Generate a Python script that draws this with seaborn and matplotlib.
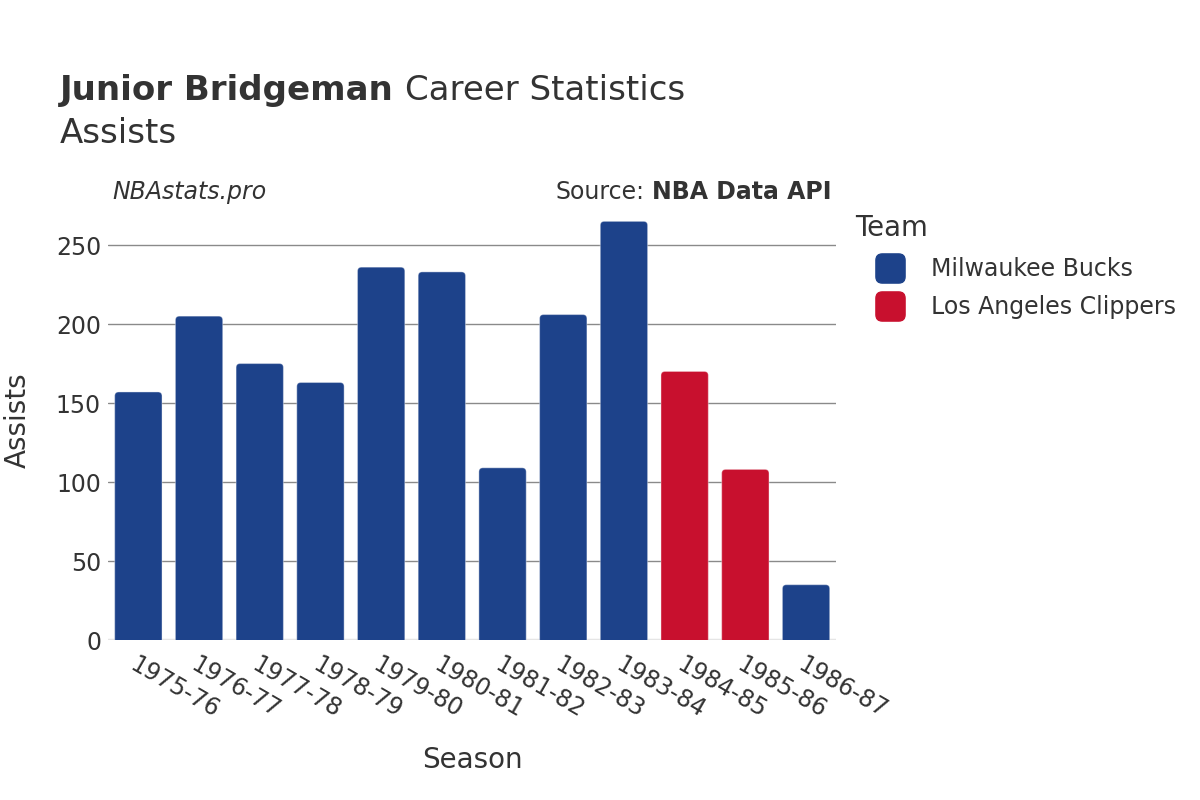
import matplotlib
matplotlib.use("Agg")
import matplotlib.pyplot as plt
from matplotlib.patches import FancyBboxPatch
from matplotlib.lines import Line2D
import seaborn as sns
import pandas as pd

seasons = ["1975-76", "1976-77", "1977-78", "1978-79", "1979-80", "1980-81",
           "1981-82", "1982-83", "1983-84", "1984-85", "1985-86", "1986-87"]
assists = [157, 205, 175, 163, 236, 233, 109, 206, 265, 170, 108, 35]
teams = ["Milwaukee Bucks"] * 9 + ["Los Angeles Clippers"] * 2 + ["Milwaukee Bucks"]
team_order = ["Milwaukee Bucks", "Los Angeles Clippers"]
team_colors = {"Milwaukee Bucks": "#1D428A", "Los Angeles Clippers": "#C8102E"}

df = pd.DataFrame({"Season": seasons, "Assists": assists, "Team": teams})

sns.set_theme(style="white")
plt.rcParams["font.family"] = ["DejaVu Sans"]
TXT = "#333333"
FS = 17

fig = plt.figure(figsize=(12, 8), dpi=100)
ax = fig.add_axes([0.09, 0.2, 0.607, 0.549])

sns.barplot(data=df, x="Season", y="Assists", hue="Team", order=seasons,
            hue_order=team_order, palette=team_colors, dodge=False,
            width=0.78, ax=ax, legend=False, saturation=1)

ax.set_ylim(0, 278)
ax.set_xlim(-0.5, len(seasons) - 0.5)

# replace bars with rounded-top versions derived from the drawn bars
xpx = 728 / 12.0
ypx = 439 / 278.0
aspect = xpx / ypx
for p in list(ax.patches):
    x, y = p.get_x(), p.get_y()
    w, h = p.get_width(), p.get_height()
    if h <= 0 or w <= 0:
        continue
    fc = p.get_facecolor()
    r = 4.0 / xpx
    nb = FancyBboxPatch((x, y - 10), w, h + 10,
                        boxstyle=f"round,pad=0,rounding_size={r}",
                        mutation_aspect=aspect, facecolor=fc,
                        edgecolor=(1, 1, 1, 0.35), linewidth=0.8, zorder=3)
    p.remove()
    ax.add_patch(nb)

ax.set_yticks([0, 50, 100, 150, 200, 250])
ax.yaxis.grid(True, color="#8a8a8a", linewidth=1)
ax.set_axisbelow(True)
for s in ax.spines.values():
    s.set_visible(False)
ax.axhline(0, color="#e5e5e5", linewidth=2.5, zorder=2)
ax.tick_params(axis="both", length=0, labelsize=FS, colors=TXT)
ax.tick_params(axis="y", pad=5)
ax.set_xticks(range(len(seasons)))
ax.set_xticklabels(seasons, rotation=-30, ha="left", rotation_mode="anchor",
                   fontsize=FS, color=TXT)
ax.tick_params(axis="x", pad=9)

ax.set_xlabel("Season", fontsize=20, color=TXT, va="center")
ax.xaxis.set_label_coords(0.5, (640 - 760) / 439.0)
ax.set_ylabel("Assists", fontsize=20, color=TXT, va="center")
ax.yaxis.set_label_coords((18 - 108) / 728.0, 0.5)

renderer = fig.canvas.get_renderer()
t1 = fig.text(0.05, 0.875, "Junior Bridgeman", fontsize=24.5, fontweight="bold",
              color=TXT, va="baseline", ha="left")
bb = t1.get_window_extent(renderer=renderer)
fig.text(bb.x1 / 1200.0 + 0.009, 0.875, "Career Statistics", fontsize=24.5,
         color=TXT, va="baseline", ha="left")
fig.text(0.05, 0.821, "Assists", fontsize=24.5, color=TXT, va="baseline", ha="left")

fig.text(0.094, 0.751, "NBAstats.pro", fontsize=FS, style="italic",
         color=TXT, va="baseline", ha="left")
t2 = fig.text(0.6933, 0.751, "NBA Data API", fontsize=FS, fontweight="bold",
              color=TXT, va="baseline", ha="right")
bb2 = t2.get_window_extent(renderer=renderer)
fig.text(bb2.x0 / 1200.0 - 0.007, 0.751, "Source:", fontsize=FS, color=TXT,
         va="baseline", ha="right")

# rounded square legend marker
rr = FancyBboxPatch((-0.5, -0.5), 1, 1, boxstyle="round,pad=0,rounding_size=0.22")
rpath = rr.get_path()
handles = [Line2D([0], [0], marker=rpath, linestyle="", markersize=21,
                  markerfacecolor=team_colors[t], markeredgecolor=team_colors[t])
           for t in team_order]
leg = fig.legend(handles, team_order, loc="upper left",
                 bbox_to_anchor=(0.7047, 0.744), frameon=False, fontsize=FS,
                 title="Team", title_fontsize=19.8, alignment="left",
                 handletextpad=0.25, labelspacing=0.615, borderaxespad=0,
                 handlelength=2.97)
for t in leg.get_texts():
    t.set_color(TXT)
leg.get_title().set_color(TXT)

fig.savefig("out.png", dpi=100, facecolor="white")
